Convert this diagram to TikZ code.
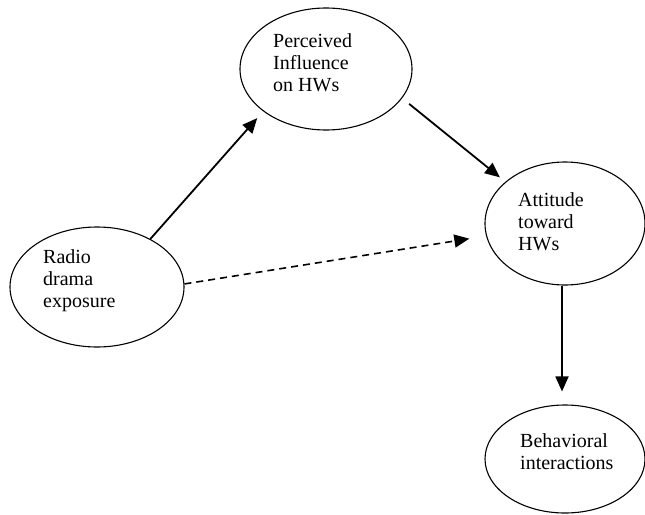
\documentclass[tikz,border=0pt]{standalone}
\usepackage{fontspec}
\setmainfont{Liberation Serif}
\usetikzlibrary{arrows.meta}
\usetikzlibrary{shapes.geometric}

\begin{document}
\begin{tikzpicture}[x=1pt, y=-1pt,
  oval/.style={draw, ellipse, line width=1.1pt, inner sep=0pt},
  lbl/.style={anchor=north west, align=left, inner sep=0pt, font=\fontsize{20}{22}\selectfont},
  link/.style={line width=1.8pt, -{Triangle[length=15pt,width=13pt]}}]

\clip (0,0) rectangle (645,514);

\node[oval, minimum width=174pt, minimum height=120pt] (radio) at (97,287) {};
\node[oval, minimum width=172pt, minimum height=122pt] (perc) at (326,69) {};
\node[oval, minimum width=160pt, minimum height=123pt] (att) at (565,223.5) {};
\node[oval, minimum width=160pt, minimum height=108pt] (behav) at (565,459) {};

\node[lbl] (radiotxt) at (43,249) {Radio\\drama\\exposure};
\node[lbl] (perctxt) at (273,33) {Perceived\\Influence\\on HWs};
\node[lbl] (atttxt) at (518,192) {Attitude\\toward\\HWs};
\node[lbl] (behavtxt) at (520,433) {Behavioral\\interactions};

\draw[link, shorten >=9pt] (radio.42.8) -- (perc.214.8);
\draw[link, shorten <=9pt, shorten >=7pt] (perc.-21.4) -- (att.145);
\draw[link, line width=1.6pt, dash pattern=on 7pt off 5pt, shorten >=17pt] (radio.2.8) -- (att.189.9);
\draw[link, shorten >=13pt] ([xshift=-3pt]att.south) -- ([xshift=-3pt]behav.north);

\end{tikzpicture}
\end{document}
